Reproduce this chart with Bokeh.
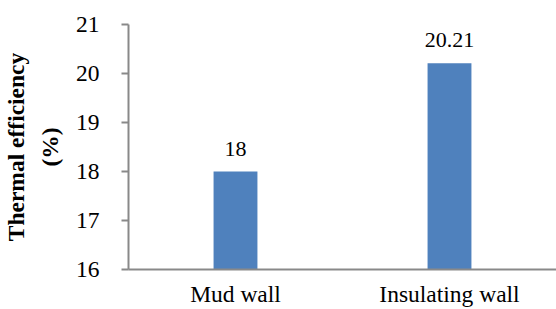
from bokeh.plotting import figure
from bokeh.models import ColumnDataSource, FactorRange, Range1d, FixedTicker
from bokeh.core.properties import value
from bokeh.embed import file_html
from bokeh.resources import INLINE

categories = ["Mud wall", "Insulating wall"]
efficiency = [18.0, 20.21]
value_labels = ["18", "20.21"]
y_ticks = [16, 17, 18, 19, 20, 21]

FONT = "Liberation Serif"
AXIS_COLOR = "#898989"

src = ColumnDataSource(dict(cat=categories, val=efficiency, lab=value_labels))

p = figure(width=556, height=309, x_range=FactorRange(*categories, range_padding=0),
           y_range=Range1d(16, 21), output_backend="svg", toolbar_location=None,
           min_border_left=126, min_border_right=0, min_border_top=24, min_border_bottom=39)

p.vbar(x="cat", top="val", bottom=16, width=0.205, source=src,
       fill_color="#4F81BD", line_color=None)

p.text(x="cat", y="val", text="lab", source=src, text_align="center",
       text_baseline="bottom", y_offset=-16, text_font=value(FONT),
       text_font_size="22px", text_color="#000000")

p.outline_line_color = None
p.xgrid.visible = False
p.ygrid.visible = False
p.background_fill_color = "white"
p.border_fill_color = "white"

ya = p.yaxis[0]
ya.ticker = FixedTicker(ticks=y_ticks)
ya.axis_line_color = AXIS_COLOR
ya.axis_line_width = 2
ya.major_tick_line_color = AXIS_COLOR
ya.major_tick_line_width = 2
ya.major_tick_out = 7
ya.major_tick_in = 0
ya.minor_tick_line_color = None
ya.major_label_standoff = 22
ya.major_label_text_font = FONT
ya.major_label_text_font_size = "23.5px"
ya.major_label_text_color = "#000000"
ya.axis_label = "Thermal efficiency\n(%)"
ya.axis_label_text_font = FONT
ya.axis_label_text_font_size = "23.5px"
ya.axis_label_text_font_style = "bold"
ya.axis_label_text_color = "#000000"
ya.axis_label_text_line_height = 1.3
ya.axis_label_standoff = 10

xa = p.xaxis[0]
xa.axis_line_color = AXIS_COLOR
xa.axis_line_width = 2
xa.major_tick_line_color = None
xa.minor_tick_line_color = None
xa.major_label_standoff = 5
xa.major_label_text_font = FONT
xa.major_label_text_font_size = "23.5px"
xa.major_label_text_color = "#000000"

open("out.html", "w").write(file_html(p, INLINE))
